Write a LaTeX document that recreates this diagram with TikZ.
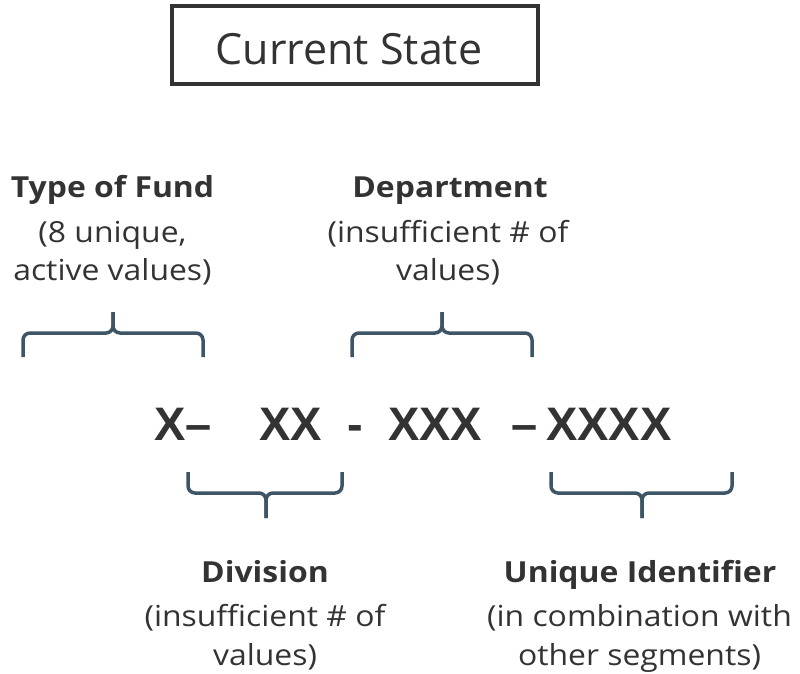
\documentclass[tikz,border=0pt]{standalone}
\usepackage{fontspec}
\setmainfont{Open Sans}
\newfontfamily\lblfont[FakeStretch=1.1]{Open Sans}
\newfontfamily\codefont{Liberation Sans}
\definecolor{txt}{HTML}{333333}
\definecolor{brc}{HTML}{3E5566}
\begin{document}
\begin{tikzpicture}[x=1pt,y=-1pt,
  lbl/.style={inner sep=0pt, anchor=base, text=txt, font=\lblfont\fontsize{29}{34}\selectfont},
  lblb/.style={inner sep=0pt, anchor=base, text=txt, font=\lblfont\fontsize{29}{34}\selectfont\bfseries},
  code/.style={inner sep=0pt, anchor=base west, text=txt, font=\codefont\bfseries\fontsize{47}{56}\selectfont},
  bracepath/.style={draw=brc, line width=3.5pt, rounded corners=7pt, line cap=butt},
  titlebox/.style={draw=txt, line width=4pt, minimum width=366pt, minimum height=78pt, inner sep=0pt}]
\useasboundingbox (0,0) rectangle (800,674);
% title
\node[titlebox] (box) at (355,45) {};
\node[inner sep=0pt, anchor=base, text=txt, font=\fontsize{43}{50}\selectfont] (title) at (349,65) {Current State};
% code
\node[code] (c1) at (154,440) {X–};
\node[code] (c2) at (259,440) {XX};
\node[code] (c3) at (347,440) {-};
\node[code] (c4) at (388,440) {XXX};
\node[code] (c5) at (511,440) {–};
\node[code] (c6) at (546,440) {XXXX};
% top labels
\node[lblb] (fundT) at (112.5,197) {Type of Fund};
\node[lbl] (fund2) at (112.5,242) {(8 unique,};
\node[lbl] (fund3) at (112.5,280) {active values)};
\node[lblb] (depT) at (450,197) {Department};
\node[lbl] (dep2) at (448,242) {(insufficient \# of};
\node[lbl] (dep3) at (448,280) {values)};
% bottom labels
\node[lblb] (divT) at (265,582) {Division};
\node[lbl] (div2) at (265,626) {(insufficient \# of};
\node[lbl] (div3) at (265,665) {values)};
\node[lblb] (uidT) at (640,582) {Unique Identifier};
\node[lbl] (uid2) at (639.5,626) {(in combination with};
\node[lbl] (uid3) at (639.5,665) {other segments)};
% braces top
\draw[bracepath] (23,357) -- (23,333) -- (113,333) -- (113,312);
\draw[bracepath] (203,357) -- (203,333) -- (113,333) -- (113,312);
\draw[bracepath] (352,357) -- (352,333) -- (442,333) -- (442,312);
\draw[bracepath] (532,357) -- (532,333) -- (442,333) -- (442,312);
% braces bottom
\draw[bracepath] (188,472) -- (188,493) -- (266,493) -- (266,518);
\draw[bracepath] (342,472) -- (342,493) -- (266,493) -- (266,518);
\draw[bracepath] (551,472) -- (551,493) -- (642,493) -- (642,518);
\draw[bracepath] (732,472) -- (732,493) -- (642,493) -- (642,518);
\end{tikzpicture}
\end{document}
